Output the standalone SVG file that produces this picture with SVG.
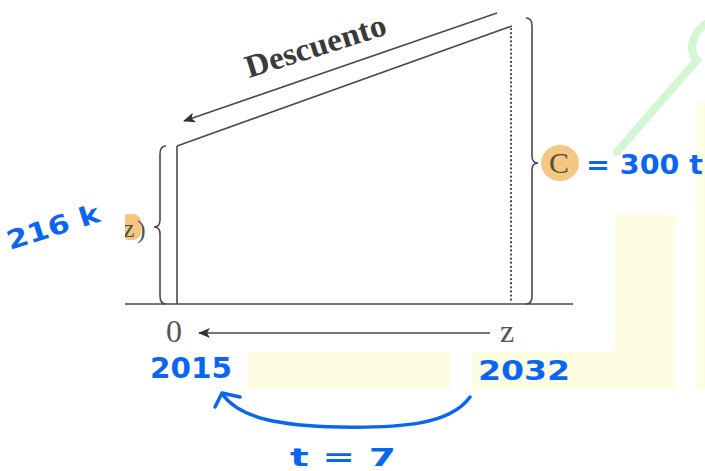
<svg xmlns="http://www.w3.org/2000/svg" width="705" height="471" viewBox="0 0 705 471">
<defs>
<style>
.ink{stroke:#4a4a4a;fill:none;stroke-width:1.6}
.print{font-family:"Liberation Serif",serif;fill:#555}
.hand{font-family:"DejaVu Sans","Liberation Sans",sans-serif;font-weight:bold;fill:#0a66f2}
.blue{stroke:#0a66f2;fill:none;stroke-width:3.5;stroke-linecap:round;stroke-linejoin:round}
.hl{fill:#f3b865;opacity:0.8}
.yel{fill:#fefde2}
</style>
<marker id="ah" viewBox="0 0 12 10" refX="11" refY="5" markerWidth="12" markerHeight="10" markerUnits="userSpaceOnUse" orient="auto">
<path d="M0,0 L12,5 L0,10 L3,5 Z" fill="#333"/>
</marker>
<clipPath id="cl"><rect x="125" y="0" width="600" height="471"/></clipPath>
</defs>
<rect width="705" height="471" fill="#fff"/>
<g id="background">
<rect class="yel" x="248" y="352" width="202" height="38"/>
<rect class="yel" x="472" y="352" width="203" height="38"/>
<rect class="yel" x="615" y="215" width="60" height="173"/>
<rect class="yel" x="697" y="103" width="8" height="287"/>
<path d="M617,152 L697,60 C689,52 690,36 705,24" stroke="#d2f7d2" stroke-width="8" fill="none" stroke-linecap="round"/>
</g>
<g id="connectors">
<line class="ink" x1="125" y1="304" x2="573" y2="304"/>
<line class="ink" x1="177" y1="146" x2="177" y2="304"/>
<line class="ink" x1="177" y1="146" x2="512" y2="26"/>
<line x1="511" y1="29" x2="511" y2="303" stroke="#444" stroke-width="2.2" stroke-dasharray="0.1,4" stroke-linecap="round"/>
<line class="ink" x1="497" y1="13" x2="184" y2="121" marker-end="url(#ah)"/>
<line class="ink" x1="490" y1="333" x2="199" y2="333" marker-end="url(#ah)"/>
<path class="ink" d="M166,146 Q160,146 160,154 L160,220 Q160,227 154,227 Q160,227 160,234 L160,296 Q160,304 166,304"/>
<path class="ink" d="M526,18 Q532,18 532,26 L532,156 Q532,163 538,163 Q532,163 532,170 L532,296 Q532,304 526,304"/>
<path class="blue" d="M470,397 C450,425 400,428 340,427 C280,426 240,418 223,395"/>
<path class="blue" d="M215,407 L222,393 L240,397"/>
</g>
<g id="descuento">
<text class="print" x="0" y="0" font-size="32" font-weight="bold" style="fill:#3a3a3a" transform="translate(249,78) rotate(-17.5)" textLength="146" lengthAdjust="spacingAndGlyphs">Descuento</text>
</g>
<g id="label-z-left" clip-path="url(#cl)">
<rect class="hl" x="121" y="214" width="20" height="26" rx="8"/>
<text class="print" x="123" y="237" font-size="26" style="fill:#4f5530">z</text>
<text class="print" x="137" y="238" font-size="26">)</text>
</g>
<g id="label-C">
<ellipse class="hl" cx="560" cy="163" rx="19" ry="18"/>
<text class="print" x="549" y="173" font-size="30" style="fill:#4f5530">C</text>
</g>
<g id="axis-labels">
<text class="print" x="166" y="342" font-size="32">0</text>
<text class="print" x="500" y="342" font-size="32">z</text>
</g>
<g id="handwritten">
<text class="hand" x="586" y="174" font-size="26" textLength="117" lengthAdjust="spacingAndGlyphs">= 300 t</text>
<text class="hand" x="0" y="0" font-size="26" transform="translate(10,250) rotate(-17.5)" textLength="96" lengthAdjust="spacingAndGlyphs">216 k</text>
<text class="hand" x="150" y="378" font-size="28" textLength="82" lengthAdjust="spacingAndGlyphs">2015</text>
<text class="hand" x="478" y="380" font-size="26" textLength="92" lengthAdjust="spacingAndGlyphs">2032</text>
<text class="hand" x="290" y="466" font-size="24" textLength="106" lengthAdjust="spacingAndGlyphs">t = 7</text>
</g>
</svg>
